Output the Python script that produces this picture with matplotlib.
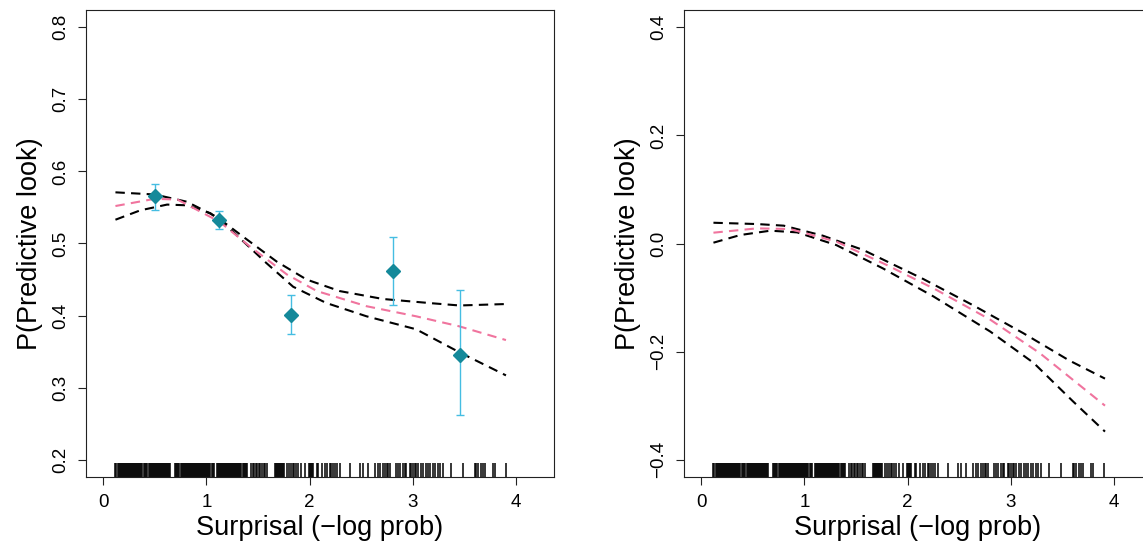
import matplotlib
matplotlib.use("Agg")
import matplotlib.pyplot as plt
import matplotlib.transforms as mtransforms

plt.rcParams['font.family'] = ['Liberation Sans', 'DejaVu Sans']

# ---------------- data ----------------
# binned empirical means (left panel)
bin_x = [0.505, 1.127, 1.822, 2.808, 3.455]
bin_y = [0.566, 0.532, 0.401, 0.462, 0.345]
bin_hi = [0.583, 0.545, 0.429, 0.509, 0.436]
bin_lo = [0.547, 0.520, 0.374, 0.415, 0.262]

# left panel smooth fit and confidence band
left_fit_x = [0.12, 0.50, 0.72, 1.13, 1.42, 1.78, 2.07, 2.55, 3.03, 3.45, 3.90]
left_fit_y = [0.552, 0.562, 0.561, 0.530, 0.496, 0.457, 0.434, 0.413, 0.399, 0.385, 0.366]
left_up_x = [0.12, 0.50, 0.81, 1.10, 1.36, 1.68, 1.97, 2.29, 2.71, 3.19, 3.45, 3.90]
left_up_y = [0.571, 0.568, 0.558, 0.537, 0.509, 0.475, 0.450, 0.434, 0.423, 0.417, 0.414, 0.416]
left_lo_x = [0.12, 0.36, 0.62, 0.81, 1.04, 1.26, 1.58, 1.84, 2.16, 2.55, 3.03, 3.45, 3.90]
left_lo_y = [0.533, 0.546, 0.554, 0.553, 0.542, 0.516, 0.473, 0.440, 0.4175, 0.399, 0.381, 0.349, 0.317]

# right panel smooth fit and confidence band
right_fit_x = [0.12, 0.54, 0.86, 1.31, 1.80, 2.28, 2.80, 3.28, 3.91]
right_fit_y = [0.020, 0.028, 0.0268, 0.0034, -0.040, -0.086, -0.141, -0.203, -0.300]
right_up_x = [0.12, 0.54, 0.80, 1.18, 1.57, 2.15, 2.64, 3.12, 3.56, 3.91]
right_up_y = [0.0384, 0.036, 0.033, 0.0144, -0.012, -0.0656, -0.115, -0.166, -0.216, -0.250]
right_lo_x = [0.12, 0.38, 0.67, 0.93, 1.31, 1.76, 2.25, 2.80, 3.22, 3.60, 3.91]
right_lo_y = [0.0015, 0.0157, 0.0237, 0.0206, -0.003, -0.046, -0.098, -0.163, -0.221, -0.292, -0.348]

# rug of observed surprisal values
rug_x = [
    0.12, 0.13, 0.14, 0.15, 0.16, 0.17, 0.18, 0.19, 0.20, 0.21, 0.22, 0.23, 0.24, 0.25,
    0.26, 0.27, 0.28, 0.29, 0.30, 0.31, 0.32, 0.33, 0.34, 0.35, 0.36, 0.37, 0.38, 0.40,
    0.41, 0.42, 0.43, 0.44, 0.45, 0.46, 0.47, 0.48, 0.49, 0.50, 0.51, 0.52, 0.53, 0.54,
    0.55, 0.56, 0.57, 0.58, 0.59, 0.60, 0.61, 0.62, 0.63, 0.64, 0.65,
    0.70, 0.71, 0.72, 0.73, 0.74, 0.75, 0.76, 0.77, 0.78, 0.79, 0.80, 0.81, 0.82, 0.83,
    0.84, 0.85, 0.86, 0.87, 0.88, 0.89, 0.90, 0.91, 0.92, 0.93, 0.94, 0.95, 0.96, 0.97,
    0.98, 0.99, 1.00, 1.01, 1.02, 1.03, 1.04, 1.05, 1.06, 1.07, 1.10, 1.11, 1.12, 1.13,
    1.14, 1.15, 1.16, 1.17, 1.18, 1.19, 1.20, 1.21, 1.22, 1.23, 1.24, 1.25, 1.26, 1.27,
    1.28, 1.29, 1.30, 1.31, 1.32, 1.33, 1.34, 1.35, 1.36, 1.37, 1.38, 1.39,
    1.43, 1.45, 1.46, 1.48, 1.49, 1.51, 1.52, 1.54, 1.56, 1.57, 1.59,
    1.66, 1.67, 1.68, 1.69, 1.70, 1.71, 1.72, 1.73, 1.74, 1.75,
    1.78, 1.80, 1.82, 1.84, 1.85, 1.87, 1.89, 1.92, 1.955, 1.99, 2.00, 2.01, 2.02, 2.035,
    2.067, 2.083, 2.116, 2.148, 2.164, 2.196, 2.21, 2.228, 2.245, 2.261, 2.293, 2.39,
    2.487, 2.52, 2.567, 2.632, 2.664, 2.68, 2.713, 2.73, 2.745, 2.76, 2.776, 2.84, 2.857,
    2.873, 2.905, 2.921, 2.937, 2.97, 2.985, 3.00, 3.018, 3.034, 3.05, 3.082, 3.098,
    3.13, 3.146, 3.163, 3.195, 3.211, 3.243, 3.259, 3.292, 3.372, 3.485, 3.597, 3.614,
    3.63, 3.662, 3.678, 3.694, 3.775, 3.791, 3.903,
]

x_ticks = [0, 1, 2, 3, 4]
left_yticks = [0.2, 0.3, 0.4, 0.5, 0.6, 0.7, 0.8]
right_yticks = [-0.4, -0.2, 0.0, 0.2, 0.4]
x_label = "Surprisal (\u2212log prob)"
y_label = "P(Predictive look)"

# ---------------- styling ----------------
FIT_COLOR = '#f0749e'
CI_COLOR = 'black'
PT_COLOR = '#14899a'
ERR_COLOR = '#45bde2'
LW = 1.5
DASH = (4.5, 3.0)
TICK_FS = 13.5
LABEL_FS = 19.5

fig = plt.figure(figsize=(11.43, 5.46), dpi=100)
ax1 = fig.add_axes([86 / 1143, 1 - 477 / 546, 468 / 1143, 467 / 546])
ax2 = fig.add_axes([684 / 1143, 1 - 477 / 546, 468 / 1143, 467 / 546])


def style(ax, yticks, ylim, ylabels):
    ax.set_xlim(-0.165, 4.365)
    ax.set_ylim(*ylim)
    ax.set_xticks(x_ticks)
    ax.set_yticks(yticks)
    ax.set_xticklabels([str(t) for t in x_ticks])
    ax.set_yticklabels(ylabels)
    for s in ax.spines.values():
        s.set_linewidth(0.8)
        s.set_color('#222222')
    ax.tick_params(axis='both', direction='out', length=6, width=0.8,
                   labelsize=TICK_FS, color='#222222')
    ax.tick_params(axis='x', pad=6)
    ax.tick_params(axis='y', pad=6)
    for lab in ax.get_yticklabels():
        lab.set_rotation(90)
        lab.set_va('center')
    ax.set_xlabel(x_label, fontsize=LABEL_FS, labelpad=3)
    ax.set_ylabel(y_label, fontsize=LABEL_FS, labelpad=7)
    trans = mtransforms.blended_transform_factory(ax.transData, ax.transAxes)
    ax.vlines(rug_x, 0, 0.03, transform=trans, color='black', lw=1.1)


# left panel
style(ax1, left_yticks, (0.176, 0.824), [f"{t:.1f}" for t in left_yticks])
ax1.plot(left_up_x, left_up_y, color=CI_COLOR, lw=LW, dashes=DASH)
ax1.plot(left_lo_x, left_lo_y, color=CI_COLOR, lw=LW, dashes=DASH)
ax1.plot(left_fit_x, left_fit_y, color=FIT_COLOR, lw=LW, dashes=DASH)
err_lo = [y - l for y, l in zip(bin_y, bin_lo)]
err_hi = [h - y for y, h in zip(bin_y, bin_hi)]
ax1.errorbar(bin_x, bin_y, yerr=[err_lo, err_hi], fmt='none', ecolor=ERR_COLOR,
             elinewidth=1.0, capsize=3, capthick=1.0, zorder=3)
ax1.plot(bin_x, bin_y, 'D', color=PT_COLOR, ms=7.5, zorder=4)

# right panel
style(ax2, right_yticks, (-0.432, 0.432),
      [f"{t:.1f}".replace('-', '\u2212') for t in right_yticks])
ax2.plot(right_up_x, right_up_y, color=CI_COLOR, lw=LW, dashes=DASH)
ax2.plot(right_lo_x, right_lo_y, color=CI_COLOR, lw=LW, dashes=DASH)
ax2.plot(right_fit_x, right_fit_y, color=FIT_COLOR, lw=LW, dashes=DASH)

fig.savefig("out.png", dpi=100)
